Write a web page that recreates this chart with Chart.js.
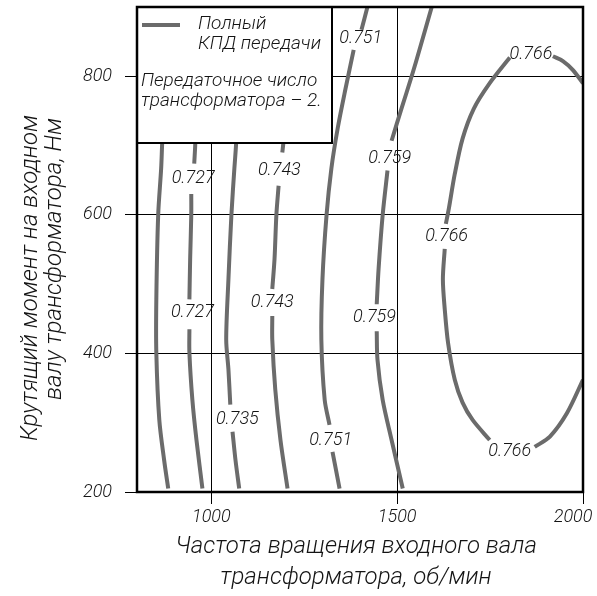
<!DOCTYPE html>
<html lang="ru">
<head>
<meta charset="utf-8">
<title>КПД передачи</title>
<script src="https://cdn.jsdelivr.net/npm/chart.js@4.4.1/dist/chart.umd.min.js"></script>
<style>
  html, body { margin: 0; padding: 0; background: #fff; }
  canvas { display: block; }
</style>
</head>
<body>
<canvas id="chart" width="597" height="596"></canvas>
<script>
// Axis ranges and ticks: input shaft speed (rpm) and input torque (N·m)
const X_MIN = 800, X_MAX = 2000;
const Y_MIN = 200, Y_MAX = 900;
const X_TICKS = [1000, 1500, 2000];
const Y_TICKS = [200, 400, 600, 800];

// Efficiency isolines as [rpm, torque] pairs; null leaves a gap for a label
const iso0 = [[887, 900], [878, 800], [868, 706], [865, 667], [857, 600], [852, 478], [852, 401], [860, 304], [873, 246], [884, 205]];
const iso1 = [[965, 900], [960, 797], [957, 706], [954, 674], null, [946, 630], [946, 600], [943, 536], [941, 478], null, [941, 435], [941, 401], [949, 333], [960, 275], [976, 205]];
const iso2 = [[1075, 900], [1073, 797], [1067, 706], [1062, 667], [1054, 600], [1046, 507], [1040, 420], [1046, 377], [1051, 326], null, [1057, 287], [1065, 246], [1075, 205]];
const iso3 = [[1202, 900], [1199, 797], [1194, 706], [1191, 690], null, [1181, 642], [1175, 600], [1170, 536], [1164, 493], null, [1164, 454], [1164, 420], [1172, 348], [1186, 275], [1205, 205]];
const iso4 = [[1420, 900], [1404, 867], null, [1383, 838], [1361, 782], [1340, 725], [1323, 667], [1310, 600], [1299, 507], [1296, 420], [1305, 333], [1318, 297], null, [1326, 258], [1345, 205]];
const iso5 = [[1593, 900], [1561, 840], [1539, 800], [1512, 754], [1485, 707], null, [1474, 664], [1461, 600], [1450, 522], [1445, 471], null, [1445, 432], [1447, 391], [1461, 333], [1485, 275], [1515, 205]];
const iso6 = [[2000, 790], [1973, 809], [1946, 822], [1919, 829], null, [1803, 827], [1749, 790], [1706, 753], [1676, 710], [1655, 659], [1639, 609], [1631, 587], null, [1628, 551], [1623, 507], [1628, 464], [1637, 415], [1655, 362], [1676, 329], [1703, 304], [1749, 275], null, [1870, 265], [1911, 280], [1957, 314], [2000, 362]];

const ISO_LINES = [iso0, iso1, iso2, iso3, iso4, iso5, iso6];
const ISO_LEVELS = [null, 0.727, 0.735, 0.743, 0.751, 0.759, 0.766];

// Inline labels: [isoline index, rpm, torque]
const isoLabels = [
  [1, 951, 652], [1, 949, 459],
  [2, 1070, 304],
  [3, 1183, 664], [3, 1164, 474],
  [4, 1402, 855], [4, 1321, 275],
  [5, 1480, 681], [5, 1439, 452],
  [6, 1860, 832], [6, 1633, 569], [6, 1803, 259]
];

const X_TITLE = ['Частота вращения входного вала', 'трансформатора, об/мин'];
const Y_TITLE = ['Крутящий момент на входном', 'валу трансформатора, Нм'];
const LEGEND_LINE = ['Полный', 'КПД передачи'];
const LEGEND_NOTE = ['Передаточное число', 'трансформатора – 2.'];

const FONT = "Roboto, 'Liberation Sans', sans-serif";
const LINE_COLOR = '#6b6b6b';
const TEXT_COLOR = '#141414';

function segments(points) {
  const out = [];
  let cur = [];
  for (const p of points) {
    if (p === null) {
      if (cur.length) out.push(cur);
      cur = [];
    } else {
      cur.push({ x: p[0], y: p[1] });
    }
  }
  if (cur.length) out.push(cur);
  return out;
}

const datasets = [];
ISO_LINES.forEach(line => {
  segments(line).forEach(seg => datasets.push({
    data: seg,
    borderColor: LINE_COLOR,
    borderWidth: 4,
    borderCapStyle: 'butt',
    pointRadius: 0,
    tension: 0.3,
    fill: false
  }));
});

const isoLabelPlugin = {
  id: 'isoLabels',
  afterDatasetsDraw(chart) {
    const { ctx, scales: { x, y } } = chart;
    ctx.save();
    ctx.font = `italic 300 18px ${FONT}`;
    ctx.fillStyle = TEXT_COLOR;
    ctx.textAlign = 'center';
    ctx.textBaseline = 'middle';
    isoLabels.forEach(([i, rpm, torque]) => {
      ctx.fillText(ISO_LEVELS[i].toFixed(3), x.getPixelForValue(rpm), y.getPixelForValue(torque));
    });
    ctx.restore();
  }
};

const legendBoxPlugin = {
  id: 'legendBox',
  afterDatasetsDraw(chart) {
    const { ctx, chartArea } = chart;
    const left = chartArea.left, top = chartArea.top;
    const w = 195, h = 136;
    ctx.save();
    ctx.fillStyle = '#fff';
    ctx.fillRect(left, top, w, h);
    ctx.strokeStyle = '#000';
    ctx.lineWidth = 2;
    ctx.strokeRect(left, top, w, h);
    ctx.strokeStyle = LINE_COLOR;
    ctx.lineWidth = 4;
    ctx.beginPath();
    ctx.moveTo(left + 5, top + 18);
    ctx.lineTo(left + 43, top + 18);
    ctx.stroke();
    ctx.fillStyle = TEXT_COLOR;
    ctx.font = `italic 300 19px ${FONT}`;
    ctx.textAlign = 'left';
    ctx.textBaseline = 'alphabetic';
    ctx.fillText(LEGEND_LINE[0], left + 61, top + 22);
    ctx.fillText(LEGEND_LINE[1], left + 61, top + 42);
    ctx.fillText(LEGEND_NOTE[0], left + 4, top + 79);
    ctx.fillText(LEGEND_NOTE[1], left + 4, top + 99);
    ctx.restore();
  }
};

const framePlugin = {
  id: 'frame',
  afterDraw(chart) {
    const { ctx, chartArea } = chart;
    ctx.save();
    ctx.strokeStyle = '#000';
    ctx.lineWidth = 2.5;
    ctx.strokeRect(chartArea.left, chartArea.top, chartArea.right - chartArea.left, chartArea.bottom - chartArea.top);

    ctx.fillStyle = TEXT_COLOR;
    ctx.font = `italic 300 24px ${FONT}`;
    ctx.textBaseline = 'alphabetic';
    // horizontal axis title
    ctx.textAlign = 'center';
    const cx = (chartArea.left + chartArea.right) / 2 - 4;
    ctx.fillText(X_TITLE[0], cx, chartArea.bottom + 61);
    ctx.fillText(X_TITLE[1], cx, chartArea.bottom + 92);
    // vertical axis title, both lines ending at the same height
    ctx.textAlign = 'right';
    [[37, 115], [61, 118]].forEach(([bx, ey], k) => {
      ctx.save();
      ctx.translate(bx, ey);
      ctx.rotate(-Math.PI / 2);
      ctx.fillText(Y_TITLE[k], 0, 0);
      ctx.restore();
    });
    ctx.restore();
  }
};

const tickFont = { family: FONT, size: 18, style: 'italic', weight: 300 };

new Chart(document.getElementById('chart'), {
  type: 'line',
  data: { datasets },
  plugins: [isoLabelPlugin, legendBoxPlugin, framePlugin],
  options: {
    responsive: false,
    animation: false,
    events: [],
    layout: { padding: { left: 0, right: 14, top: 7, bottom: 0 } },
    plugins: {
      legend: { display: false },
      tooltip: { enabled: false }
    },
    scales: {
      x: {
        type: 'linear',
        min: X_MIN,
        max: X_MAX,
        afterBuildTicks: s => { s.ticks = X_TICKS.map(v => ({ value: v })); },
        afterFit: s => { s.height = 104; s.paddingLeft = 0; s.paddingRight = 0; },
        border: { display: false },
        grid: { color: '#000', lineWidth: 1, tickLength: 12, drawTicks: true },
        ticks: {
          font: tickFont,
          color: TEXT_COLOR,
          padding: 3,
          maxRotation: 0,
          autoSkip: false,
          callback: v => (v === X_MAX ? String(v) + '\u2007\u2007' : String(v))
        }
      },
      y: {
        type: 'linear',
        min: Y_MIN,
        max: Y_MAX,
        afterBuildTicks: s => { s.ticks = Y_TICKS.map(v => ({ value: v })); },
        afterFit: s => { s.width = 137; s.paddingTop = 0; s.paddingBottom = 0; },
        border: { display: false },
        grid: { color: '#000', lineWidth: 1, tickLength: 12, drawTicks: true },
        ticks: {
          font: tickFont,
          color: TEXT_COLOR,
          padding: 13,
          autoSkip: false,
          callback: v => String(v)
        }
      }
    }
  }
});
</script>
</body>
</html>
